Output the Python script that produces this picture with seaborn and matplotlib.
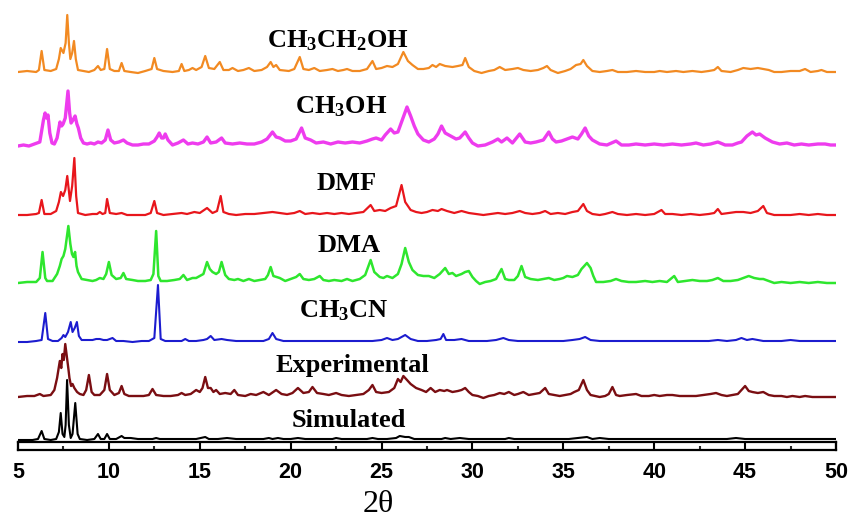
import matplotlib
matplotlib.use("Agg")
import matplotlib.pyplot as plt
import seaborn as sns
import pandas as pd

# ---- data (two-theta, intensity above each trace's own baseline) ----
ORANGE = [(5.0,1),(5.5,2),(6.0,1),(6.15,3),(6.3,22),(6.45,3),(6.8,2),(7.1,4),(7.25,14),(7.35,25),(7.5,20),(7.62,30),(7.71,58),(7.8,30),(7.88,14),(7.98,20),(8.08,32),(8.18,14),(8.3,3),(8.6,2),(8.9,1),(9.2,3),(9.4,7),(9.55,3),(9.75,4),(9.9,24),(10.05,4),(10.3,2),(10.55,2),(10.7,10),(10.85,2),(11.2,1),(11.6,0),(12.0,2),(12.35,4),(12.5,15),(12.65,4),(13.0,2),(13.5,1),(13.85,2),(14.0,9),(14.15,2),(14.4,3),(14.6,5),(14.8,3),(15.1,6),(15.3,17),(15.5,5),(15.8,4),(16.1,11),(16.3,3),(16.6,3),(16.8,5),(17.1,2),(17.4,3),(17.7,5),(18.0,2),(18.4,3),(18.7,6),(18.9,11),(19.05,6),(19.2,8),(19.4,3),(19.9,2),(20.2,4),(20.5,16),(20.7,4),(21.0,3),(21.3,5),(21.6,2),(22.0,3),(22.3,4),(22.6,2),(22.9,3),(23.1,4),(23.4,2),(23.8,2),(24.2,4),(24.5,12),(24.7,4),(25.0,5),(25.3,7),(25.6,6),(25.9,9),(26.2,21),(26.45,12),(26.7,8),(27.0,4),(27.3,4),(27.6,5),(27.8,8),(28.0,6),(28.2,9),(28.5,7),(28.9,6),(29.2,7),(29.45,8),(29.6,15),(29.8,6),(30.1,2),(30.5,0),(30.9,2),(31.2,3),(31.5,6),(31.8,3),(32.2,4),(32.5,5),(32.8,3),(33.2,2),(33.6,3),(33.9,5),(34.1,7),(34.3,3),(34.7,0),(35.1,2),(35.4,4),(35.7,8),(35.95,9),(36.1,13),(36.3,7),(36.6,2),(37.0,1),(37.4,2),(37.7,3),(38.0,1),(38.5,1),(39.0,2),(39.5,1),(40.0,1),(40.3,2),(40.7,1),(41.2,2),(41.6,1),(42.1,2),(42.6,1),(43.0,2),(43.3,3),(43.5,6),(43.7,2),(44.2,1),(44.6,3),(44.9,5),(45.3,4),(45.7,5),(46.0,4),(46.3,3),(46.6,1),(47.0,1),(47.5,2),(48.0,2),(48.3,4),(48.6,1),(49.0,2),(49.2,3),(49.5,1),(50.0,1)]

MAGENTA = [(5.0,2),(5.3,3),(5.6,2),(5.9,4),(6.2,6),(6.4,28),(6.49,35),(6.57,30),(6.65,33),(6.75,15),(6.87,5),(7.0,4),(7.15,10),(7.31,26),(7.4,22),(7.48,24),(7.6,30),(7.75,57),(7.84,35),(7.92,25),(8.03,28),(8.14,32),(8.24,24),(8.32,20),(8.45,10),(8.6,5),(8.8,4),(9.0,5),(9.2,4),(9.4,6),(9.6,5),(9.8,8),(9.95,18),(10.1,8),(10.3,5),(10.55,6),(10.8,8),(11.0,5),(11.3,3),(11.6,3),(11.9,4),(12.2,4),(12.5,7),(12.65,11),(12.77,15),(12.9,10),(13.0,10),(13.1,14),(13.25,8),(13.5,3),(13.8,5),(14.1,8),(14.35,4),(14.6,5),(14.9,4),(15.2,6),(15.4,11),(15.6,5),(15.9,6),(16.2,10),(16.4,5),(16.8,4),(17.2,5),(17.6,4),(18.0,4),(18.4,6),(18.7,9),(19.0,16),(19.2,11),(19.4,10),(19.7,7),(20.0,7),(20.3,9),(20.6,20),(20.8,10),(21.1,8),(21.4,5),(21.8,6),(22.2,4),(22.6,6),(23.0,5),(23.4,6),(23.8,5),(24.2,7),(24.5,9),(24.7,10),(25.0,8),(25.2,13),(25.5,19),(25.7,15),(25.9,16),(26.1,26),(26.4,41),(26.6,32),(26.8,22),(27.0,14),(27.3,8),(27.6,6),(27.9,9),(28.1,14),(28.3,22),(28.5,15),(28.8,12),(29.1,9),(29.3,10),(29.6,16),(29.8,10),(30.0,5),(30.3,2),(30.7,3),(31.1,6),(31.4,9),(31.6,6),(31.9,10),(32.2,5),(32.6,14),(32.9,6),(33.2,5),(33.5,6),(33.9,8),(34.2,16),(34.4,9),(34.6,6),(34.9,7),(35.2,9),(35.5,11),(35.8,9),(36.0,14),(36.2,20),(36.4,12),(36.6,8),(37.0,4),(37.4,3),(37.9,7),(38.2,3),(38.6,3),(39.0,4),(39.5,3),(40.0,4),(40.5,3),(41.0,4),(41.5,3),(42.0,4),(42.3,5),(42.7,3),(43.1,4),(43.5,6),(43.9,3),(44.3,3),(44.6,5),(44.8,6),(45.1,12),(45.4,16),(45.6,13),(45.8,14),(46.1,10),(46.5,6),(46.9,4),(47.3,5),(47.7,3),(48.1,4),(48.5,3),(49.0,4),(49.4,4),(49.7,3),(50.0,3)]

RED = [(5.0,1),(5.5,1),(6.0,2),(6.15,3),(6.3,16),(6.45,2),(6.8,2),(7.1,5),(7.25,14),(7.36,24),(7.48,20),(7.6,26),(7.71,40),(7.8,25),(7.86,15),(7.98,30),(8.1,58),(8.2,20),(8.3,3),(8.7,1),(9.1,2),(9.35,2),(9.5,4),(9.65,2),(9.8,3),(9.9,17),(10.05,3),(10.4,2),(10.7,3),(11.0,1),(11.5,1),(12.0,1),(12.3,3),(12.5,15),(12.65,3),(13.0,1),(13.5,2),(14.0,3),(14.3,2),(14.7,4),(15.0,3),(15.4,8),(15.7,3),(15.95,5),(16.15,20),(16.3,4),(16.6,2),(17.0,1),(17.5,2),(18.0,2),(18.5,3),(19.0,4),(19.4,3),(19.8,2),(20.2,3),(20.5,5),(20.8,2),(21.2,3),(21.6,2),(22.0,3),(22.4,2),(22.8,3),(23.2,2),(23.6,3),(24.0,4),(24.4,11),(24.6,5),(24.9,6),(25.2,5),(25.5,8),(25.8,10),(26.1,31),(26.3,14),(26.6,6),(26.9,4),(27.2,3),(27.5,4),(27.8,6),(28.1,5),(28.3,7),(28.6,5),(29.0,3),(29.4,5),(29.8,3),(30.2,2),(30.6,1),(31.0,2),(31.4,3),(31.8,2),(32.2,3),(32.6,5),(32.9,3),(33.3,2),(33.7,3),(34.0,5),(34.3,2),(34.7,3),(35.1,2),(35.5,4),(35.8,5),(36.1,12),(36.3,5),(36.6,2),(37.0,1),(37.3,2),(37.7,4),(38.0,2),(38.5,1),(39.0,2),(39.5,1),(40.0,2),(40.4,6),(40.6,2),(41.0,2),(41.5,1),(42.0,2),(42.5,1),(43.0,2),(43.3,3),(43.5,7),(43.7,2),(44.1,3),(44.5,4),(44.9,4),(45.3,3),(45.7,5),(46.0,10),(46.2,3),(46.6,1),(47.0,1),(47.5,1),(48.0,2),(48.5,1),(49.0,2),(49.5,1),(50.0,1)]

GREEN = [(5.0,1),(5.5,2),(6.0,2),(6.2,6),(6.35,32),(6.5,6),(6.6,3),(6.9,3),(7.15,10),(7.3,18),(7.4,25),(7.5,28),(7.6,35),(7.77,58),(7.88,40),(7.97,30),(8.05,27),(8.14,32),(8.22,18),(8.3,12),(8.5,5),(8.8,4),(9.1,3),(9.3,4),(9.5,6),(9.7,5),(9.85,10),(10.0,22),(10.15,9),(10.4,5),(10.65,6),(10.8,11),(10.95,5),(11.3,4),(11.6,3),(12.0,3),(12.3,4),(12.45,10),(12.6,53),(12.72,8),(12.85,3),(13.2,3),(13.6,4),(13.9,5),(14.1,9),(14.3,4),(14.6,6),(14.8,6),(15.0,8),(15.2,10),(15.4,22),(15.55,15),(15.7,12),(15.9,10),(16.05,12),(16.2,22),(16.4,9),(16.6,5),(16.9,4),(17.1,5),(17.4,3),(17.7,5),(18.0,3),(18.3,4),(18.6,5),(18.75,9),(18.9,17),(19.05,8),(19.4,6),(19.7,3),(20.0,5),(20.3,7),(20.5,10),(20.7,5),(21.0,4),(21.3,5),(21.6,8),(21.8,4),(22.1,3),(22.4,4),(22.8,3),(23.1,5),(23.4,3),(23.8,5),(24.1,9),(24.4,24),(24.6,12),(24.9,7),(25.1,6),(25.3,8),(25.6,6),(25.9,10),(26.1,20),(26.3,36),(26.5,22),(26.7,14),(27.0,9),(27.3,8),(27.6,8),(27.9,6),(28.2,10),(28.5,16),(28.7,10),(28.9,11),(29.1,8),(29.4,10),(29.6,12),(29.8,13),(30.0,7),(30.2,3),(30.4,0),(30.7,2),(31.0,3),(31.3,5),(31.6,15),(31.8,5),(32.0,4),(32.3,4),(32.5,8),(32.7,18),(32.9,7),(33.2,5),(33.6,4),(33.9,5),(34.2,6),(34.5,4),(34.8,5),(35.0,6),(35.2,8),(35.5,7),(35.8,9),(36.0,15),(36.3,21),(36.5,16),(36.65,8),(36.8,2),(37.2,2),(37.6,3),(37.9,5),(38.2,3),(38.6,2),(39.0,2),(39.5,3),(39.9,2),(40.3,3),(40.7,2),(41.1,8),(41.3,2),(41.7,3),(42.1,4),(42.5,3),(42.9,3),(43.2,4),(43.5,6),(43.8,3),(44.2,3),(44.6,4),(44.9,6),(45.2,8),(45.5,6),(45.8,5),(46.0,5),(46.3,3),(46.6,1),(47.0,2),(47.5,1),(48.0,2),(48.5,1),(49.0,2),(49.5,1),(50.0,1)]

BLUE = [(5.0,0),(5.5,0),(6.0,1),(6.3,2),(6.5,29),(6.65,3),(6.9,1),(7.2,1),(7.4,4),(7.5,7),(7.6,5),(7.75,10),(7.9,20),(8.0,10),(8.12,14),(8.24,20),(8.35,6),(8.5,2),(8.8,2),(9.1,2),(9.3,3),(9.5,3),(9.7,2),(9.9,2),(10.2,4),(10.4,1),(10.8,1),(11.3,0),(11.8,1),(12.2,1),(12.5,4),(12.7,57),(12.85,3),(13.1,1),(13.5,1),(14.0,1),(14.2,3),(14.4,1),(14.8,1),(15.2,2),(15.4,3),(15.6,6),(15.8,2),(16.2,3),(16.5,2),(17.0,1),(17.5,1),(18.0,1),(18.5,1),(18.8,3),(19.0,9),(19.2,3),(19.6,1),(20.0,1),(20.5,1),(21.0,1),(21.5,1),(22.0,1),(22.5,1),(23.0,1),(23.5,1),(24.0,1),(24.5,1),(25.0,2),(25.3,4),(25.6,2),(25.9,3),(26.3,7),(26.6,3),(27.0,1),(27.5,1),(28.0,2),(28.25,3),(28.4,8),(28.55,2),(29.0,2),(29.4,3),(29.8,1),(30.3,1),(30.8,1),(31.3,2),(31.7,4),(32.0,2),(32.5,1),(33.0,1),(33.5,1),(34.0,1),(34.5,1),(35.0,1),(35.5,2),(35.9,3),(36.2,5),(36.5,2),(37.0,1),(37.5,1),(38.0,1),(38.5,1),(39.0,1),(39.5,1),(40.0,1),(40.5,1),(41.0,1),(41.5,1),(42.0,1),(42.5,1),(43.0,1),(43.5,2),(44.0,1),(44.5,2),(44.8,4),(45.1,2),(45.4,3),(45.7,2),(46.0,1),(46.5,1),(47.0,1),(47.5,2),(48.0,1),(48.5,1),(49.0,1),(49.5,1),(50.0,1)]

EXPERIMENTAL = [(5.0,1),(5.5,2),(5.9,2),(6.2,4),(6.4,2),(6.8,3),(7.0,8),(7.15,20),(7.3,37),(7.38,30),(7.45,44),(7.52,38),(7.6,54),(7.7,40),(7.78,28),(7.83,20),(7.92,12),(8.0,14),(8.1,10),(8.25,6),(8.4,4),(8.6,3),(8.75,8),(8.9,23),(9.05,6),(9.2,3),(9.5,3),(9.75,8),(9.9,24),(10.05,8),(10.3,3),(10.55,5),(10.7,12),(10.85,4),(11.1,2),(11.5,2),(11.9,2),(12.2,3),(12.4,9),(12.6,3),(13.0,2),(13.4,2),(13.8,3),(14.0,5),(14.2,3),(14.5,4),(14.8,8),(15.0,6),(15.15,10),(15.3,21),(15.45,10),(15.6,10),(15.75,6),(15.9,8),(16.1,4),(16.4,5),(16.7,4),(16.9,8),(17.1,3),(17.5,2),(17.8,4),(18.1,3),(18.5,6),(18.8,3),(19.2,8),(19.5,4),(19.8,3),(20.1,5),(20.4,10),(20.7,5),(21.0,6),(21.2,11),(21.45,5),(21.8,4),(22.1,3),(22.5,5),(22.8,3),(23.2,2),(23.6,3),(24.0,4),(24.3,8),(24.5,13),(24.7,6),(25.0,5),(25.4,6),(25.7,10),(25.9,19),(26.05,16),(26.2,22),(26.4,18),(26.6,14),(26.9,10),(27.2,8),(27.45,6),(27.7,10),(27.95,6),(28.2,8),(28.45,7),(28.6,8),(28.9,6),(29.2,7),(29.4,8),(29.6,10),(29.8,6),(30.0,3),(30.3,2),(30.6,0),(30.9,2),(31.2,3),(31.5,5),(31.75,4),(32.0,6),(32.3,3),(32.5,4),(32.8,6),(33.1,3),(33.4,4),(33.7,5),(34.0,10),(34.2,4),(34.5,3),(34.8,2),(35.1,3),(35.4,4),(35.6,6),(35.85,8),(36.1,18),(36.3,8),(36.5,3),(37.0,1),(37.3,2),(37.5,4),(37.7,11),(37.9,3),(38.1,2),(38.5,3),(39.0,4),(39.3,2),(39.7,2),(40.0,3),(40.3,2),(40.7,3),(41.0,3),(41.4,2),(41.8,2),(42.3,2),(42.7,3),(43.1,4),(43.4,5),(43.7,3),(44.0,2),(44.3,3),(44.6,4),(45.0,12),(45.2,7),(45.4,6),(45.7,5),(46.0,6),(46.3,3),(46.6,2),(47.0,2),(47.3,1),(47.6,2),(48.0,1),(48.3,2),(48.7,1),(49.0,1),(49.5,1),(50.0,1)]

SIMULATED = [(5.0,0),(5.8,0),(6.1,1),(6.3,9),(6.45,1),(6.8,0),(7.1,1),(7.25,8),(7.35,27),(7.45,6),(7.55,3),(7.62,15),(7.7,60),(7.8,15),(7.9,2),(8.0,6),(8.15,37),(8.28,6),(8.4,1),(8.8,0),(9.2,1),(9.4,6),(9.55,1),(9.75,1),(9.9,6),(10.05,1),(10.4,1),(10.7,4),(10.85,2),(11.2,2),(11.6,1),(12.0,1),(12.4,1),(12.6,2),(12.8,1),(13.3,1),(13.8,1),(14.3,1),(14.8,1),(15.3,3),(15.5,1),(16.0,1),(16.5,2),(17.0,1),(17.5,1),(18.0,1),(18.5,1),(18.8,2),(19.0,1),(19.3,2),(19.6,1),(20.0,1),(20.4,2),(20.8,1),(21.3,1),(21.8,1),(22.3,1),(22.5,2),(22.8,1),(23.3,1),(23.8,1),(24.2,1),(24.5,2),(24.8,1),(25.3,1),(25.8,2),(26.0,4),(26.3,3),(26.5,3),(26.8,1),(27.3,1),(27.8,1),(28.3,1),(28.5,2),(28.8,1),(29.3,2),(29.8,1),(30.3,1),(30.8,1),(31.3,1),(31.8,1),(32.0,2),(32.3,1),(32.8,1),(33.3,1),(33.8,1),(34.3,1),(34.8,1),(35.3,1),(35.8,2),(36.3,3),(36.6,1),(37.0,2),(37.5,1),(38.0,1),(38.5,1),(39.0,1),(39.5,1),(40.0,1),(40.5,1),(41.0,1),(41.5,1),(42.0,1),(42.5,1),(43.0,1),(43.5,1),(44.0,1),(44.5,2),(45.0,1),(45.5,1),(46.0,1),(46.5,1),(47.0,1),(47.5,1),(48.0,1),(48.5,1),(49.0,1),(49.5,1),(50.0,1)]

SAMPLES = ["CH3CH2OH", "CH3OH", "DMF", "DMA", "CH3CN", "Experimental", "Simulated"]
LABELS = [r"$\mathbf{CH_3CH_2OH}$", r"$\mathbf{CH_3OH}$", "DMF", "DMA",
          r"$\mathbf{CH_3CN}$", "Experimental", "Simulated"]
SERIES = [ORANGE, MAGENTA, RED, GREEN, BLUE, EXPERIMENTAL, SIMULATED]
OFFSETS = [369, 294, 226, 158, 100, 44, 2]
COLORS = ["#F28A22", "#EE3CEE", "#E8161C", "#2EE62E", "#1C1CCF", "#7A0E12", "#000000"]
LINE_W = [1.6, 2.4, 1.6, 1.8, 1.5, 1.7, 1.5]
LABEL_X = [22.6, 22.8, 23.1, 23.2, 22.9, 23.4, 23.2]
LABEL_Y = [395, 329, 252, 190, 125, 70, 15]
X_TICKS = [5, 10, 15, 20, 25, 30, 35, 40, 45, 50]

rows = []
for name, pts, off in zip(SAMPLES, SERIES, OFFSETS):
    for x, y in pts:
        rows.append({"two_theta": x, "intensity": y + off, "sample": name})
df = pd.DataFrame(rows)

sns.set_style("white")
plt.rcParams["mathtext.fontset"] = "custom"
plt.rcParams["mathtext.bf"] = "Liberation Serif:bold"
plt.rcParams["mathtext.rm"] = "Liberation Serif:bold"

W, H = 854, 518
fig = plt.figure(figsize=(W / 100, H / 100), dpi=100)
L, R = 18, 836
ax = fig.add_axes([L / W, 1 - 442 / H, (R - L) / W, 442 / H])
axb = fig.add_axes([L / W, 1 - 450 / H, (R - L) / W, 8 / H])

for name, col, lw in zip(SAMPLES, COLORS, LINE_W):
    sub = df[df["sample"] == name]
    sns.lineplot(data=sub, x="two_theta", y="intensity", ax=ax, color=col,
                 lw=lw, sort=False, estimator=None, legend=False)

ax.set_xlim(5, 50)
ax.set_ylim(0, 442)
ax.set_axis_off()

for lab, lx, ly in zip(LABELS, LABEL_X, LABEL_Y):
    ax.text(lx, ly, lab, ha="center", va="baseline", fontsize=19,
            fontweight="bold", family="Liberation Serif", color="black")

# thin axis box
axb.set_xlim(5, 50)
axb.set_ylim(0, 1)
axb.set_yticks([])
axb.set_xticks(X_TICKS)
axb.set_xticks([x + 2.5 for x in X_TICKS[:-1]], minor=True)
axb.set_xticklabels([str(t) for t in X_TICKS])
for s in axb.spines.values():
    s.set_visible(True)
    s.set_linewidth(1.6)
    s.set_color("black")
axb.tick_params(axis="x", which="major", direction="in", length=5.8, width=1.5,
                bottom=True, top=False, pad=9, labelsize=15.5, colors="black")
axb.tick_params(axis="x", which="minor", direction="in", length=2.6, width=1.5,
                bottom=True, top=False)
for t in axb.get_xticklabels():
    t.set_fontweight("bold")
    t.set_family("Liberation Sans")
axb.set_xlabel("")

fig.text(378 / W, 1 - 505 / H, "2θ", ha="center", va="center", fontsize=23,
         family="Liberation Serif", color="black")

fig.savefig("out.png", dpi=100, facecolor="white")
